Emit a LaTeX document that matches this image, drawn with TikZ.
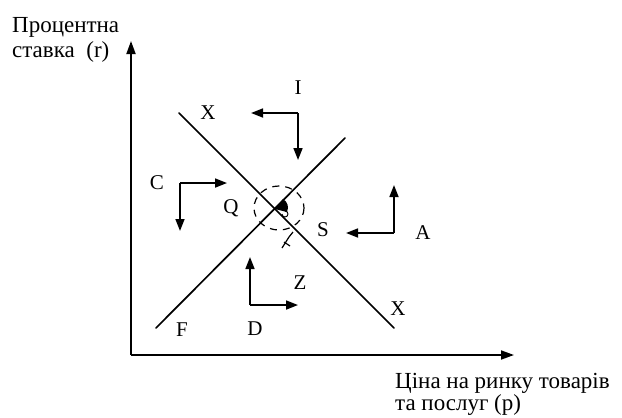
\documentclass[tikz,border=0pt]{standalone}
\usepackage{fontspec}
\setmainfont{Liberation Serif}
\usetikzlibrary{arrows.meta}
\begin{document}
\begin{tikzpicture}[x=1pt,y=-1pt,
  axisline/.style={line width=1.8pt,-{Triangle[length=13pt,width=9pt]}},
  mv/.style={line width=1.7pt,-{Triangle[length=12pt,width=9pt]}},
  curveline/.style={line width=1.7pt,line cap=round},
  lbl/.style={font=\fontsize{21}{24}\selectfont,inner sep=0pt},
  axlabel/.style={font=\fontsize{23}{25}\selectfont,inner sep=0pt,anchor=base west}]
\useasboundingbox (0,0) rectangle (622,418);
% axes
\coordinate (O) at (131,355);
\coordinate (ytip) at (131,41);
\coordinate (xtip) at (514,355);
\draw[axisline] (O) -- (ytip);
\draw[axisline] (O) -- (xtip);
\node[axlabel] (ylab1) at (12,32) {Процентна};
\node[axlabel] (ylab2) at (12,57) {ставка\ \ (r)};
\node[axlabel] (xlab1) at (395,388) {Ціна на ринку товарів};
\node[axlabel] (xlab2) at (395,410) {та послуг (p)};
% curves
\coordinate (X1) at (179,113);
\coordinate (X2) at (394,328);
\coordinate (F1) at (156,328);
\coordinate (F2) at (345,138);
\draw[curveline] (X1) -- (X2);
\draw[curveline] (F1) -- (F2);
% equilibrium
\coordinate (E) at (275,209);
\draw[line width=1.2pt,dash pattern=on 7pt off 6pt] (279,208) ellipse [x radius=25, y radius=22];
\fill (E) -- (283,199) .. controls (288,202) and (289,207) .. (287,212) -- cycle;
\draw[line width=0.9pt] (282,214) arc[start angle=180,end angle=-90,radius=3];
\draw[line width=1.2pt] (282,248) -- (289,237) (284,242) -- (290,246) (289,237) -- (293,232);
% labels
\node[lbl] (Xtop) at (208,113) {X};
\node[lbl] (Xbot) at (398,309) {X};
\node[lbl] (Ilab) at (298,88) {I};
\node[lbl] (Clab) at (157,183) {C};
\node[lbl] (Qlab) at (231,208) {Q};
\node[lbl] (Slab) at (323,230) {S};
\node[lbl] (Alab) at (423,233) {A};
\node[lbl] (Zlab) at (300,283) {Z};
\node[lbl] (Flab) at (182,330) {F};
\node[lbl] (Dlab) at (255,329) {D};
% movement arrows
\coordinate (Ic) at (298,113);
\draw[mv] (Ic) -- (251,113);
\draw[mv] (Ic) -- (298,160);
\coordinate (Cc) at (180,183);
\draw[mv] (Cc) -- (227,183);
\draw[mv] (Cc) -- (180,231);
\coordinate (Ac) at (394,233);
\draw[mv] (Ac) -- (394,185);
\draw[mv] (Ac) -- (346,233);
\coordinate (Dc) at (250,305);
\draw[mv] (Dc) -- (250,257);
\draw[mv] (Dc) -- (298,305);
\end{tikzpicture}
\end{document}
